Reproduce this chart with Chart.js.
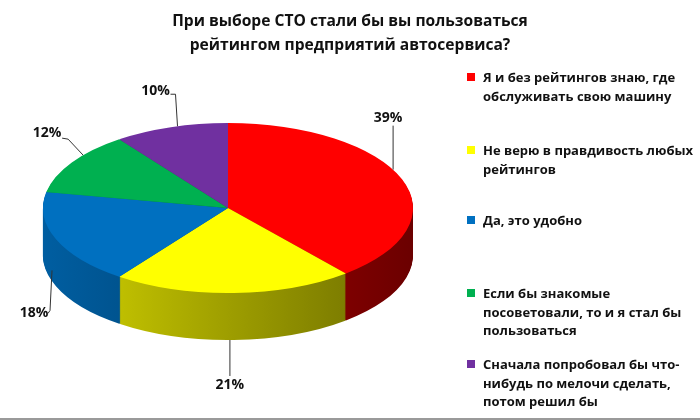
<!DOCTYPE html>
<html>
<head>
<meta charset="utf-8">
<script src="https://cdn.jsdelivr.net/npm/chart.js@4/dist/chart.umd.min.js"></script>
<style>
  html, body { margin: 0; padding: 0; background: #fff; }
  #wrap { position: relative; width: 700px; height: 420px; overflow: hidden; background: #fff; }
  #wrap canvas { position: absolute; left: 0; top: 0; }
  #title { position: absolute; left: 0; width: 700px; top: 8px; text-align: center;
    font-family: "Open Sans", sans-serif; font-weight: 700; font-size: 15.6px; line-height: 24px; color: #111; }
  .lg { position: absolute; left: 467px; font-family: "Open Sans", sans-serif; font-weight: 700;
    font-size: 13px; line-height: 18.5px; color: #111; }
  .lg .box { position: absolute; left: 0; top: 5px; width: 8px; height: 8px; }
  .lg .txt { margin-left: 16px; width: 225px; }
  #bottomline { position: absolute; left: 0; top: 418px; width: 700px; height: 2px; background: #9a9a9a; }
</style>
</head>
<body>
<div id="wrap">
  <canvas id="c" width="700" height="420"></canvas>
  <div id="title"></div>
  <div id="legend"></div>
  <div id="bottomline"></div>
</div>
<script>
// ---- data ----
const titleLines = ["При выборе СТО стали бы вы пользоваться", "рейтингом предприятий автосервиса?"];
const categories = [
  ["Я и без рейтингов знаю, где", "обслуживать свою машину"],
  ["Не верю в правдивость любых", "рейтингов"],
  ["Да, это удобно"],
  ["Если бы знакомые", "посоветовали, то и я стал бы", "пользоваться"],
  ["Сначала попробовал бы что-", "нибудь по мелочи сделать,", "потом решил бы"]
];
const values = [39, 21, 18, 12, 10];

// ---- styles ----
const colors = ["#FF0000", "#FFFF00", "#0070C0", "#00B050", "#7030A0"];
const legendTops = [68, 141, 211, 284, 355];
const TILT = 85 / 185;     // vertical squash of the pie top
const DEPTH = 47;          // thickness of the pie in px
// label placement: fraction inside slice for anchor, depth fraction, leader path, label offset
const labelStyle = [
  { frac: 0.45, depth: 0,    path: [[0,0],[0,-44]],            off: [-5,-52] },
  { frac: 0.516, depth: 1,   path: [[0,0],[0,36]],             off: [0,45] },
  { frac: 0.556, depth: 0.77,path: [[0,0],[-2,40],[-4,43]],    off: [-18,43] },
  { frac: 0.64, depth: 0,    path: [[0,0],[-15,-16],[-21,-17]], off: [-36,-22] },
  { frac: 0.56, depth: 0,    path: [[0,0],[-2,-32],[-7,-32]],  off: [-22,-35] }
];

// title & legend (HTML text)
document.getElementById('title').innerHTML = titleLines.join('<br>');
const lgEl = document.getElementById('legend');
categories.forEach((lines, i) => {
  const d = document.createElement('div');
  d.className = 'lg';
  d.style.top = legendTops[i] + 'px';
  d.innerHTML = '<div class="box" style="background:' + colors[i] + '"></div><div class="txt">' + lines.join('<br>') + '</div>';
  lgEl.appendChild(d);
});

function shade(hex, f) {
  const n = parseInt(hex.slice(1), 16);
  const r = Math.round(((n >> 16) & 255) * f), g = Math.round(((n >> 8) & 255) * f), b = Math.round((n & 255) * f);
  return 'rgb(' + r + ',' + g + ',' + b + ')';
}

const pie3d = {
  id: 'pie3d',
  beforeDatasetsDraw(chart) {
    const meta = chart.getDatasetMeta(0);
    const a0 = meta.data[0];
    const cx = a0.x, cy = a0.y, R = a0.outerRadius;
    const ctx = chart.ctx;
    ctx.save();
    ctx.translate(0, cy); ctx.scale(1, TILT); ctx.translate(0, -cy);
    const grads = colors.map(c => {
      const g = ctx.createLinearGradient(cx - R, 0, cx + R, 0);
      g.addColorStop(0, shade(c, 0.84));
      g.addColorStop(0.5, shade(c, 0.62));
      g.addColorStop(1, shade(c, 0.42));
      return g;
    });
    for (let d = DEPTH; d >= 1; d -= 1) {
      ctx.save();
      ctx.translate(0, d / TILT);
      meta.data.forEach((arc, i) => {
        const orig = arc.options.backgroundColor;
        arc.options.backgroundColor = grads[i];
        arc.draw(ctx);
        arc.options.backgroundColor = orig;
      });
      ctx.restore();
    }
  },
  afterDatasetsDraw(chart) {
    const ctx = chart.ctx;
    ctx.restore();
    const meta = chart.getDatasetMeta(0);
    ctx.save();
    ctx.strokeStyle = '#333';
    ctx.lineWidth = 1;
    ctx.fillStyle = '#111';
    ctx.font = 'bold 14px "Open Sans", sans-serif';
    ctx.textAlign = 'center';
    ctx.textBaseline = 'middle';
    const total = values.reduce((s, v) => s + v, 0);
    meta.data.forEach((arc, i) => {
      const st = labelStyle[i];
      const t = arc.startAngle + st.frac * (arc.endAngle - arc.startAngle);
      const ax = arc.x + arc.outerRadius * Math.cos(t);
      const ay = arc.y + arc.outerRadius * TILT * Math.sin(t) + st.depth * DEPTH;
      ctx.beginPath();
      st.path.forEach((p, k) => {
        if (k === 0) ctx.moveTo(ax + p[0], ay + p[1]); else ctx.lineTo(ax + p[0], ay + p[1]);
      });
      ctx.stroke();
      ctx.fillText(Math.round(values[i] / total * 100) + '%', ax + st.off[0], ay + st.off[1]);
    });
    ctx.restore();
  }
};

new Chart(document.getElementById('c'), {
  type: 'pie',
  data: {
    labels: categories.map(l => l.join(' ')),
    datasets: [{ data: values, backgroundColor: colors, borderWidth: 0, hoverOffset: 0 }]
  },
  options: {
    responsive: false,
    animation: false,
    layout: { padding: { left: 43, right: 287, top: 23, bottom: 27 } },
    plugins: { legend: { display: false }, title: { display: false }, tooltip: { enabled: false } }
  },
  plugins: [pie3d]
});
</script>
</body>
</html>
